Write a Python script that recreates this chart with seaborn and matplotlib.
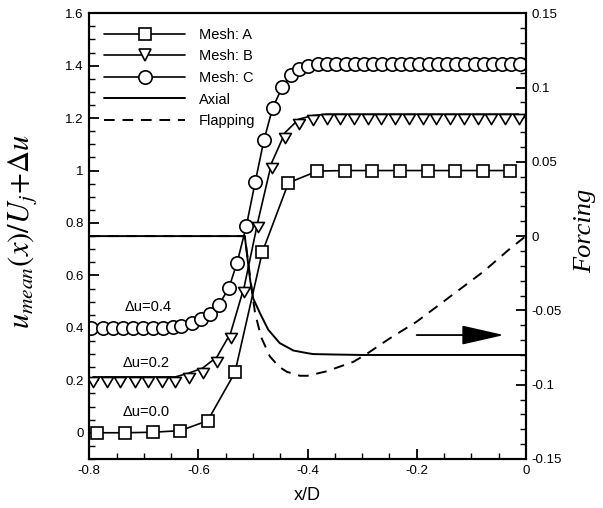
import numpy as np
import pandas as pd
import matplotlib
matplotlib.use("Agg")
import matplotlib.pyplot as plt
import seaborn as sns
from matplotlib.path import Path
from matplotlib.lines import Line2D
from matplotlib.ticker import MultipleLocator, FuncFormatter

# ---------------- data ----------------
xA = [-0.785, -0.734, -0.684, -0.633, -0.583, -0.533, -0.483, -0.435, -0.382,
      -0.331, -0.281, -0.230, -0.180, -0.130, -0.079, -0.029]
yA = [0.0, 0.0, 0.002, 0.008, 0.046, 0.23, 0.688, 0.953, 0.998,
      1.0, 1.0, 1.0, 1.0, 1.0, 1.0, 1.0]

xB = [-0.793, -0.768, -0.743, -0.717, -0.692, -0.667, -0.642, -0.617,
      -0.592, -0.566, -0.541, -0.516, -0.491, -0.466, -0.441, -0.416,
      -0.390, -0.365, -0.340, -0.315, -0.290, -0.265, -0.239, -0.214,
      -0.189, -0.164, -0.139, -0.114, -0.088, -0.063, -0.038, -0.013]
yB = [0.213, 0.213, 0.213, 0.213, 0.213, 0.213, 0.213, 0.228,
      0.247, 0.289, 0.38, 0.557, 0.805, 1.028, 1.145, 1.196,
      1.21, 1.215, 1.215, 1.215, 1.215, 1.215, 1.215, 1.215,
      1.215, 1.215, 1.215, 1.215, 1.215, 1.215, 1.215, 1.215]

xC = [-0.796, -0.775, -0.756, -0.738, -0.719, -0.701, -0.683, -0.664,
      -0.647, -0.631, -0.612, -0.595, -0.579, -0.562, -0.544, -0.529,
      -0.512, -0.496, -0.480, -0.464, -0.446, -0.431, -0.416, -0.399,
      -0.381, -0.364, -0.347, -0.330, -0.313, -0.296, -0.280, -0.263,
      -0.246, -0.229, -0.212, -0.195, -0.178, -0.161, -0.145, -0.128,
      -0.111, -0.094, -0.077, -0.060, -0.043, -0.027, -0.010]
yC = [0.4, 0.4, 0.4, 0.4, 0.4, 0.4, 0.4, 0.401,
      0.404, 0.409, 0.419, 0.432, 0.451, 0.489, 0.553, 0.649,
      0.79, 0.955, 1.115, 1.238, 1.32, 1.364, 1.387, 1.40,
      1.405, 1.405, 1.405, 1.405, 1.405, 1.405, 1.405, 1.405,
      1.405, 1.405, 1.405, 1.405, 1.405, 1.405, 1.405, 1.405,
      1.405, 1.405, 1.405, 1.405, 1.405, 1.405, 1.405]

x_axial = [-0.8, -0.515, -0.510, -0.505, -0.4995, -0.487, -0.472, -0.451,
           -0.426, -0.40, -0.39, -0.35, -0.30, 0.0]
f_axial = [0.0, 0.0, -0.015, -0.030, -0.042, -0.052, -0.063, -0.072,
           -0.077, -0.0788, -0.0794, -0.0797, -0.080, -0.080]

x_flap = [-0.8, -0.515, -0.5, -0.496, -0.485, -0.469, -0.452, -0.438, -0.414,
          -0.40, -0.365, -0.316, -0.292, -0.25, -0.2, -0.139, -0.078, -0.032, 0.0]
f_flap = [0.0, 0.0, -0.042, -0.052, -0.068, -0.081, -0.088, -0.0913, -0.094,
          -0.094, -0.091, -0.0846, -0.0794, -0.069, -0.0576, -0.0408, -0.024, -0.0094, 0.0]

labels = ["Mesh: A", "Mesh: B", "Mesh: C", "Axial", "Flapping"]
du_labels = ["\u0394u=0.4", "\u0394u=0.2", "\u0394u=0.0"]
du_pos_x = [-0.693, -0.695, -0.695]
du_pos_y = [0.48, 0.267, 0.078]

# ---------------- style ----------------
sns.set_theme(style="ticks")
plt.rcParams["font.family"] = ["Liberation Sans", "DejaVu Sans"]
plt.rcParams["mathtext.fontset"] = "stix"
plt.rcParams["axes.unicode_minus"] = False

fig = plt.figure(figsize=(6.03, 5.08), dpi=100)
ax = fig.add_axes([0.148, 0.0965, 0.724, 0.8775])
ax2 = ax.twinx()

lw = 1.2
# triangle hanging below the data point (line along top edge)
tri = Path([(-1.0, 0.0), (1.0, 0.0), (0.0, -1.7), (-1.0, 0.0)],
           [Path.MOVETO, Path.LINETO, Path.LINETO, Path.CLOSEPOLY])

dfA = pd.DataFrame({"x": xA, "y": yA})
dfB = pd.DataFrame({"x": xB, "y": yB})
dfC = pd.DataFrame({"x": xC, "y": yC})
dfAx = pd.DataFrame({"x": x_axial, "f": f_axial})
dfFl = pd.DataFrame({"x": x_flap, "f": f_flap})

# forcing on right axis (drawn beneath)
sns.lineplot(data=dfAx, x="x", y="f", ax=ax2, color="black", linewidth=1.4)
sns.lineplot(data=dfFl, x="x", y="f", ax=ax2, color="black", linewidth=1.4,
             linestyle=(0, (5.5, 4.0)))

ax2.annotate("", xy=(-0.040, -0.0666), xytext=(-0.200, -0.0666),
             xycoords="data", textcoords="data",
             arrowprops=dict(arrowstyle="-|>,head_length=2.2,head_width=0.5",
                             color="black", lw=1.3, shrinkA=0, shrinkB=0))

ax.set_zorder(ax2.get_zorder() + 1)
ax.patch.set_visible(False)

sns.lineplot(data=dfA, x="x", y="y", ax=ax, color="black", linewidth=lw,
             marker="s", markersize=8, markerfacecolor="white",
             markeredgecolor="black", markeredgewidth=1.2)
sns.lineplot(data=dfB, x="x", y="y", ax=ax, color="black", linewidth=lw,
             marker=tri, markersize=14.5, markerfacecolor="white",
             markeredgecolor="black", markeredgewidth=1.2)
sns.lineplot(data=dfC, x="x", y="y", ax=ax, color="black", linewidth=lw,
             marker="o", markersize=9.6, markerfacecolor="white",
             markeredgecolor="black", markeredgewidth=1.2)

for t, xx, yy in zip(du_labels, du_pos_x, du_pos_y):
    ax.text(xx, yy, t, fontsize=10.5, ha="center", va="center", color="black")

# ---------------- axes ----------------
ax.set_xlim(-0.8, 0.0)
ax.set_ylim(-0.1, 1.6)
ax2.set_ylim(-0.15, 0.15)

fmt = FuncFormatter(lambda v, p: ("%g" % round(v, 6)))
ax.xaxis.set_major_locator(MultipleLocator(0.2))
ax.xaxis.set_minor_locator(MultipleLocator(0.05))
ax2.yaxis.set_major_locator(MultipleLocator(0.05))
ax2.yaxis.set_minor_locator(MultipleLocator(0.01))
ax.xaxis.set_major_formatter(fmt)
ax.yaxis.set_major_formatter(fmt)
ax2.yaxis.set_major_formatter(fmt)

ax.set_yticks(np.arange(0, 1.61, 0.2))
ax.set_yticks(np.arange(-0.1, 1.601, 0.05), minor=True)
ax.set_ylim(-0.1, 1.6)

for a in (ax, ax2):
    a.tick_params(which="major", direction="in", length=7, width=1.3,
                  labelsize=9.5, pad=4, color="black", labelcolor="black")
    a.tick_params(which="minor", direction="in", length=4, width=1.0,
                  color="black")
    for s in a.spines.values():
        s.set_linewidth(1.5)
        s.set_color("black")
        s.set_visible(True)
ax.tick_params(axis="y", which="both", left=True, right=False)
ax.tick_params(axis="x", which="both", bottom=True, top=False)
ax2.tick_params(axis="y", which="both", right=True, left=False)

ax.set_xlabel("x/D", fontsize=13, color="black")
ax.xaxis.label.set_va("center")
ax.xaxis.set_label_coords(0.5, -0.081)

ax.set_ylabel(r"$u_{mean}(x)/U_j\!+\!\Delta u$", fontsize=22, color="black")
ax.yaxis.label.set_va("center")
ax.yaxis.set_label_coords(-0.154, 0.511)

ax2.set_ylabel("Forcing", fontsize=19, color="black",
               family=["Liberation Serif"], style="italic", rotation=90)
ax2.yaxis.label.set_va("center")
ax2.yaxis.set_label_coords(1.135, 0.511)

# ---------------- legend ----------------
handles = [
    Line2D([], [], color="black", lw=lw, marker="s", markersize=8,
           markerfacecolor="white", markeredgecolor="black", markeredgewidth=1.2),
    Line2D([], [], color="black", lw=lw, marker="v", markersize=9,
           markerfacecolor="white", markeredgecolor="black", markeredgewidth=1.2),
    Line2D([], [], color="black", lw=lw, marker="o", markersize=9.6,
           markerfacecolor="white", markeredgecolor="black", markeredgewidth=1.2),
    Line2D([], [], color="black", lw=1.4),
    Line2D([], [], color="black", lw=1.4, linestyle=(0, (5.5, 4.0))),
]
leg = ax.legend(handles, labels, loc="upper left", bbox_to_anchor=(0.0, 1.0),
                frameon=False, fontsize=10.5, handlelength=5.6, handletextpad=0.9,
                labelspacing=0.52, borderpad=0.75, borderaxespad=0.25)
for t in leg.get_texts():
    t.set_color("black")

fig.savefig("out.png", dpi=100)
